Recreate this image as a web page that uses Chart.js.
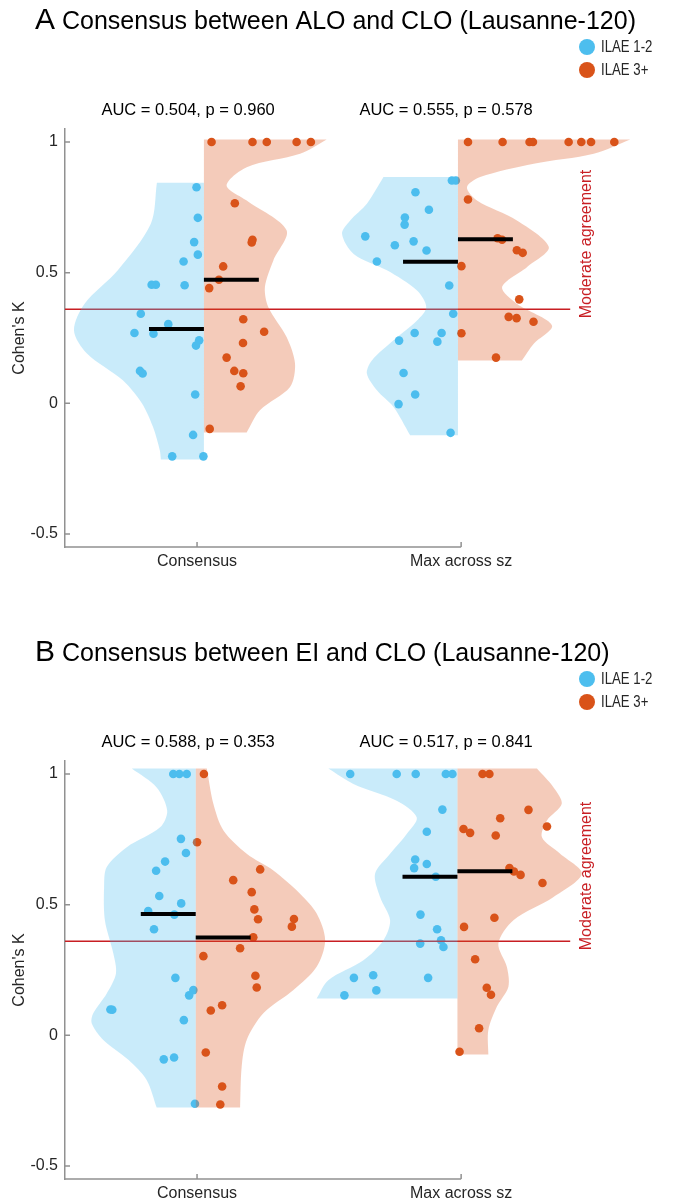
<!DOCTYPE html>
<html><head><meta charset="utf-8">
<script src="https://cdn.jsdelivr.net/npm/chart.js@4.4.1/dist/chart.umd.min.js"></script>
<style>
html,body{margin:0;padding:0;background:#fff;}
#wrap{position:relative;width:680px;height:1201px;overflow:hidden;}
.panel{position:absolute;left:0;width:680px;}
</style></head><body>
<div id="wrap">
  <div class="panel" style="top:0;height:632px"><canvas id="cA"></canvas></div>
  <div class="panel" style="top:632px;height:569px"><canvas id="cB"></canvas></div>
</div>
<script>
// ---------------- DATA ----------------
const categories = ['Consensus', 'Max across sz'];
const groupNames = ['ILAE 1-2', 'ILAE 3+'];
const yTickValues = [-0.5, 0, 0.5, 1];
const yTickLabels = ['-0.5', '0', '0.5', '1'];
const yAxisLabel = "Cohen's K";
const moderateK = 0.36;
const moderateLabel = 'Moderate agreement';

const titleA = ['A', 'Consensus between ALO and CLO (Lausanne-120)'];
const titleB = ['B', 'Consensus between EI and CLO (Lausanne-120)'];
const aucA = ['AUC = 0.504, p = 0.960', 'AUC = 0.555, p = 0.578'];
const aucB = ['AUC = 0.588, p = 0.353', 'AUC = 0.517, p = 0.841'];

// violin centre positions (x value) for the two categories
const centresA = [1.026, 1.988];
const centresB = [0.995, 1.986];

// medians [Consensus, Max across sz]
const medianBlueA = [0.284, 0.542];
const medianOrangeA = [0.473, 0.628];
const medianBlueB = [0.464, 0.607];
const medianOrangeB = [0.374, 0.628];

// points: [kappa, horizontal jitter from violin centre]
const bluePtsA1 = [[0.827,-0.028],[0.710,-0.023],[0.617,-0.037],[0.569,-0.023],[0.543,-0.077],[0.454,-0.198],[0.454,-0.182],[0.452,-0.073],[0.343,-0.239],[0.303,-0.135],[0.269,-0.263],[0.266,-0.191],[0.241,-0.018],[0.221,-0.030],[0.124,-0.242],[0.114,-0.232],[0.034,-0.033],[-0.121,-0.041],[-0.203,-0.120],[-0.203,-0.002]];
const orangePtsA1 = [[1,0.029],[1,0.184],[1,0.238],[1,0.351],[1,0.405],[0.766,0.117],[0.626,0.184],[0.616,0.181],[0.524,0.073],[0.473,0.057],[0.441,0.020],[0.322,0.149],[0.274,0.228],[0.231,0.148],[0.175,0.086],[0.124,0.115],[0.115,0.149],[0.065,0.139],[-0.098,0.022]];
const bluePtsA2 = [[0.853,-0.023],[0.853,-0.008],[0.808,-0.161],[0.741,-0.110],[0.711,-0.201],[0.684,-0.202],[0.639,-0.351],[0.620,-0.168],[0.605,-0.239],[0.585,-0.119],[0.543,-0.307],[0.451,-0.033],[0.343,-0.018],[0.269,-0.164],[0.269,-0.062],[0.240,-0.223],[0.236,-0.078],[0.116,-0.206],[0.034,-0.162],[-0.003,-0.225],[-0.113,-0.028]];
const orangePtsA2 = [[1,0.038],[1,0.169],[1,0.271],[1,0.284],[1,0.419],[1,0.467],[1,0.504],[1,0.592],[0.780,0.038],[0.632,0.150],[0.626,0.167],[0.586,0.223],[0.576,0.245],[0.525,0.013],[0.398,0.232],[0.331,0.192],[0.326,0.222],[0.312,0.286],[0.268,0.013],[0.175,0.144]];

const bluePtsB1 = [[1,-0.085],[1,-0.062],[1,-0.034],[0.752,-0.056],[0.698,-0.037],[0.665,-0.116],[0.630,-0.150],[0.533,-0.138],[0.505,-0.055],[0.476,-0.180],[0.462,-0.081],[0.406,-0.158],[0.220,-0.077],[0.173,-0.009],[0.153,-0.025],[0.099,-0.323],[0.098,-0.316],[0.058,-0.045],[-0.085,-0.082],[-0.092,-0.121],[-0.262,-0.003]];
const orangePtsB1 = [[1,0.031],[0.739,0.005],[0.635,0.244],[0.594,0.142],[0.548,0.212],[0.482,0.222],[0.445,0.372],[0.444,0.236],[0.416,0.364],[0.375,0.218],[0.333,0.168],[0.303,0.029],[0.228,0.226],[0.183,0.231],[0.115,0.100],[0.095,0.057],[-0.066,0.038],[-0.196,0.100],[-0.265,0.093]];
const bluePtsB2 = [[1,-0.406],[1,-0.230],[1,-0.158],[1,-0.044],[1,-0.019],[0.864,-0.057],[0.779,-0.116],[0.673,-0.160],[0.656,-0.116],[0.640,-0.164],[0.607,-0.082],[0.462,-0.140],[0.406,-0.077],[0.364,-0.062],[0.351,-0.141],[0.338,-0.053],[0.230,-0.319],[0.220,-0.111],[0.220,-0.392],[0.172,-0.307],[0.153,-0.428]];
const orangePtsB2 = [[1,0.095],[1,0.121],[0.863,0.269],[0.831,0.162],[0.799,0.339],[0.790,0.023],[0.775,0.048],[0.765,0.145],[0.640,0.197],[0.627,0.214],[0.614,0.239],[0.583,0.322],[0.450,0.140],[0.415,0.025],[0.291,0.067],[0.182,0.111],[0.155,0.127],[0.027,0.082],[-0.063,0.008]];

// violin outlines: [kappa, half width], top to bottom
const violinBlueA1 = [[0.844,0.178],[0.687,0.201],[0.509,0.326],[0.382,0.451],[0.279,0.492],[0.191,0.443],[0.088,0.307],[0,0.235],[-0.09,0.193],[-0.18,0.167],[-0.215,0.163]];
const violinOrangeA1 = [[1.01,0.465],[0.955,0.364],[0.904,0.162],[0.834,0.086],[0.776,0.162],[0.662,0.313],[0.547,0.263],[0.445,0.231],[0.368,0.244],[0.254,0.313],[0.152,0.345],[0.062,0.326],[-0.027,0.212],[-0.112,0.162]];
const violinBlueA2 = [[0.866,0.282],[0.764,0.345],[0.70,0.408],[0.649,0.439],[0.572,0.395],[0.509,0.269],[0.432,0.155],[0.368,0.120],[0.317,0.155],[0.241,0.244],[0.164,0.326],[0.114,0.345],[0.05,0.307],[-0.014,0.244],[-0.122,0.181]];
const violinOrangeA2 = [[1.01,0.652],[0.955,0.514],[0.917,0.287],[0.866,0.084],[0.827,0.034],[0.776,0.072],[0.70,0.223],[0.598,0.344],[0.521,0.261],[0.445,0.167],[0.381,0.223],[0.298,0.356],[0.228,0.287],[0.164,0.242]];
const violinBlueB1 = [[1.021,0.242],[0.949,0.148],[0.860,0.108],[0.796,0.135],[0.720,0.261],[0.644,0.337],[0.567,0.347],[0.44,0.344],[0.313,0.312],[0.237,0.302],[0.160,0.337],[0.084,0.388],[0.046,0.394],[-0.018,0.350],[-0.094,0.255],[-0.171,0.186],[-0.276,0.148]];
const violinOrangeB1 = [[1.021,0.042],[0.885,0.067],[0.784,0.105],[0.695,0.193],[0.631,0.294],[0.542,0.395],[0.466,0.458],[0.364,0.490],[0.262,0.458],[0.173,0.370],[0.084,0.256],[-0.018,0.193],[-0.12,0.174],[-0.276,0.168]];
const violinBlueB2 = [[1.021,0.489],[0.962,0.394],[0.898,0.230],[0.834,0.154],[0.771,0.192],[0.695,0.255],[0.618,0.312],[0.529,0.293],[0.44,0.255],[0.364,0.280],[0.287,0.356],[0.211,0.489],[0.141,0.533]];
const violinOrangeB2 = [[1.021,0.301],[0.949,0.364],[0.886,0.395],[0.822,0.339],[0.758,0.320],[0.695,0.389],[0.618,0.471],[0.529,0.364],[0.44,0.212],[0.351,0.155],[0.262,0.187],[0.186,0.193],[0.109,0.149],[0.02,0.117],[-0.073,0.117]];

// ---------------- STYLE ----------------
const FONT = '"Liberation Sans", Arial, Helvetica, sans-serif';
const BLUE = 'rgb(77,190,238)';
const ORANGE = 'rgb(217,83,25)';
const BLUE_FILL = 'rgba(77,190,238,0.3)';
const ORANGE_FILL = 'rgba(217,83,25,0.3)';
const RED = 'rgb(200,30,35)';
const AXIS = 'rgb(145,145,145)';
const TXT = 'rgb(38,38,38)';
const MED_HALF = 0.208;

Chart.defaults.font.family = FONT;
Chart.defaults.color = TXT;

function violinPoints(centre, shape, side) {
  const top = shape[0][0], bottom = shape[shape.length - 1][0];
  const pts = [{x: centre, y: top}];
  shape.forEach(([k, w], i) => {
    const p = {x: centre + side * w, y: k};
    pts.push(p);
    if (i === 0 || i === shape.length - 1) pts.push({x: p.x, y: p.y});
  });
  pts.push({x: centre, y: bottom});
  return pts;
}
function pointsFrom(centre, arr) {
  return arr.map(([k, j]) => ({x: centre + j, y: k}));
}

const decor = {
  id: 'decor',
  afterDraw(chart, args, o) {
    const {ctx, chartArea: a, scales: {x, y}} = chart;
    ctx.save();
    // x axis line and inward ticks
    ctx.strokeStyle = AXIS; ctx.lineWidth = 1.5;
    ctx.beginPath();
    ctx.moveTo(a.left, a.bottom); ctx.lineTo(x.getPixelForValue(2), a.bottom);
    yTickValues.forEach(v => { const py = y.getPixelForValue(v); ctx.moveTo(a.left, py); ctx.lineTo(a.left + 5, py); });
    categories.forEach((c, i) => { const px = x.getPixelForValue(i + 1); ctx.moveTo(px, a.bottom); ctx.lineTo(px, a.bottom - 5); });
    ctx.stroke();
    // title
    ctx.fillStyle = '#000';
    ctx.textBaseline = 'alphabetic'; ctx.textAlign = 'left';
    ctx.font = '30px ' + FONT;
    ctx.fillText(o.title[0], 35, 29);
    const wL = ctx.measureText(o.title[0]).width;
    ctx.font = '25px ' + FONT;
    ctx.fillText(o.title[1], 35 + wL + 7, 29);
    // legend
    const cols = [BLUE, ORANGE];
    groupNames.forEach((g, i) => {
      const cy = 47 + i * 23;
      ctx.fillStyle = cols[i];
      ctx.beginPath(); ctx.arc(587, cy, 8, 0, Math.PI * 2); ctx.fill();
      ctx.save();
      ctx.fillStyle = TXT; ctx.font = '16.5px ' + FONT; ctx.textBaseline = 'middle';
      ctx.translate(601, cy); ctx.scale(0.8, 1);
      ctx.fillText(g, 0, 0);
      ctx.restore();
    });
    // AUC annotations
    ctx.fillStyle = '#000'; ctx.textAlign = 'center'; ctx.textBaseline = 'middle';
    ctx.font = '16.5px ' + FONT;
    const aucX = [0.966, 1.943];
    o.auc.forEach((t, i) => ctx.fillText(t, x.getPixelForValue(aucX[i]), 110));
    // moderate agreement label
    ctx.fillStyle = RED; ctx.font = '16px ' + FONT;
    ctx.translate(587, a.top + 115); ctx.rotate(-Math.PI / 2);
    ctx.fillText(moderateLabel, 0, 0);
    ctx.restore();
  }
};

function makeChart(id, height, centres, pts, violins, medians, title, auc) {
  const ds = [];
  // points (drawn first)
  ds.push({label: groupNames[0], data: pointsFrom(centres[0], pts[0]).concat(pointsFrom(centres[1], pts[1])),
    backgroundColor: BLUE, borderWidth: 0, pointRadius: 4.3, order: 6});
  ds.push({label: groupNames[1], data: pointsFrom(centres[0], pts[2]).concat(pointsFrom(centres[1], pts[3])),
    backgroundColor: ORANGE, borderWidth: 0, pointRadius: 4.3, order: 6});
  // moderate threshold line
  ds.push({type: 'line', label: moderateLabel, data: [{x: 0.5, y: moderateK}, {x: 2.413, y: moderateK}],
    borderColor: RED, borderWidth: 1.5, pointRadius: 0, fill: false, order: 5});
  // violins
  const vcfg = [[0, violins[0], -1, BLUE_FILL], [1, violins[1], -1, BLUE_FILL], [0, violins[2], 1, ORANGE_FILL], [1, violins[3], 1, ORANGE_FILL]];
  vcfg.forEach(([ci, shape, side, col]) => {
    ds.push({type: 'line', label: 'violin', data: violinPoints(centres[ci], shape, side),
      borderWidth: 0, borderColor: 'rgba(0,0,0,0)', backgroundColor: col, fill: 'shape', pointRadius: 0, tension: 0.3, order: 4});
  });
  // medians
  [0, 1].forEach(ci => {
    ds.push({type: 'line', label: 'median', data: [{x: centres[ci] - MED_HALF, y: medians[0][ci]}, {x: centres[ci], y: medians[0][ci]}],
      borderColor: '#000', borderWidth: 4, pointRadius: 0, fill: false, order: 1});
    ds.push({type: 'line', label: 'median', data: [{x: centres[ci], y: medians[1][ci]}, {x: centres[ci] + MED_HALF, y: medians[1][ci]}],
      borderColor: '#000', borderWidth: 4, pointRadius: 0, fill: false, order: 1});
  });

  return new Chart(document.getElementById(id), {
    type: 'scatter',
    data: {datasets: ds},
    options: {
      responsive: true, maintainAspectRatio: false, animation: false,
      layout: {padding: {top: 129, right: 34, left: 0, bottom: 0}},
      plugins: {legend: {display: false}, tooltip: {enabled: false}, decor: {title, auc}},
      scales: {
        x: {type: 'linear', min: 0.5, max: 2.7,
          grid: {display: false, drawTicks: false}, border: {display: false},
          afterBuildTicks: s => { s.ticks = categories.map((c, i) => ({value: i + 1})); },
          afterFit: s => { s.height = height - 547; },
          ticks: {autoSkip: false, maxRotation: 0, padding: 5, font: {size: 16}, color: TXT,
            callback: (v, i) => categories[i]}},
        y: {type: 'linear', min: -0.55, max: 1.05,
          grid: {display: false, drawTicks: false}, border: {display: true, color: AXIS, width: 1.5},
          afterBuildTicks: s => { s.ticks = yTickValues.map(v => ({value: v})); },
          afterFit: s => { s.width = 65; },
          ticks: {padding: 7, font: {size: 16}, color: TXT, callback: (v, i) => yTickLabels[i]},
          title: {display: true, text: yAxisLabel, font: {size: 16}, color: TXT, padding: {top: 10, bottom: 0}}}
      }
    },
    plugins: [decor]
  });
}

makeChart('cA', 632, centresA,
  [bluePtsA1, bluePtsA2, orangePtsA1, orangePtsA2],
  [violinBlueA1, violinBlueA2, violinOrangeA1, violinOrangeA2],
  [medianBlueA, medianOrangeA], titleA, aucA);
makeChart('cB', 569, centresB,
  [bluePtsB1, bluePtsB2, orangePtsB1, orangePtsB2],
  [violinBlueB1, violinBlueB2, violinOrangeB1, violinOrangeB2],
  [medianBlueB, medianOrangeB], titleB, aucB);
</script>
</body></html>
